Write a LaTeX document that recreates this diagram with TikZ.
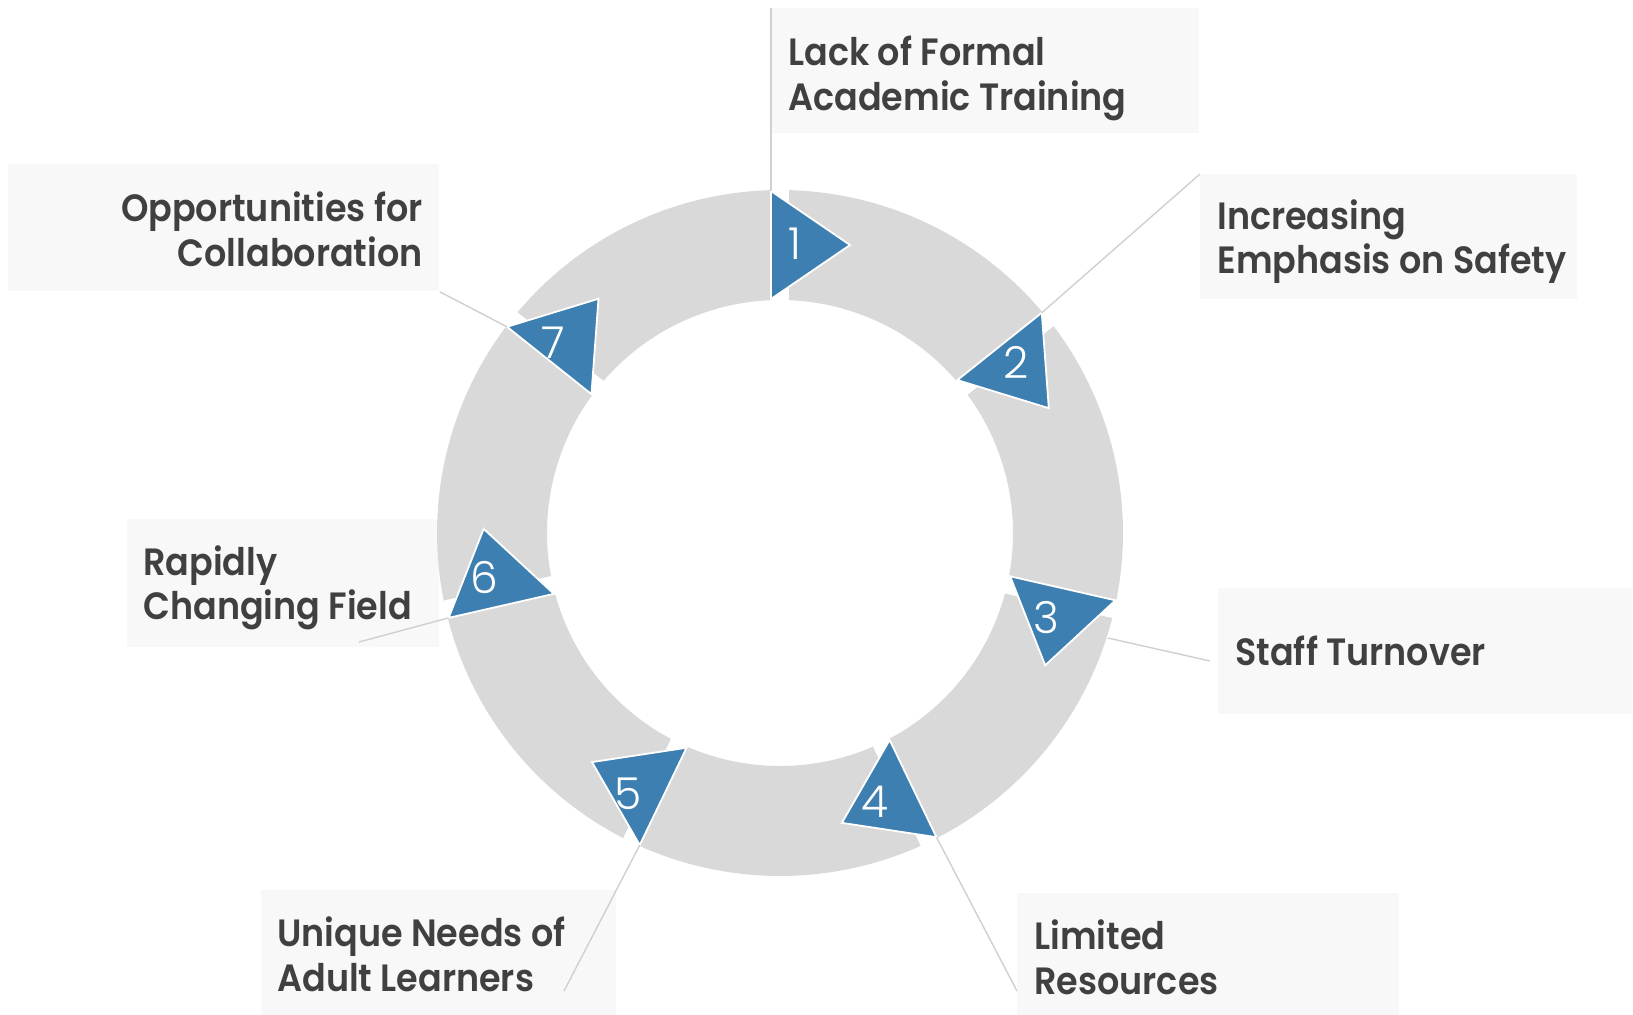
\documentclass[tikz,border=0pt]{standalone}
\usepackage{fontspec}
\usetikzlibrary{calc}
\IfFontExistsTF{Poppins SemiBold}{\newfontfamily\lblfont{Poppins SemiBold}[FakeStretch=0.92]}{\newfontfamily\lblfont{Poppins}[UprightFont=*-Bold, FakeStretch=0.92]}
\IfFontExistsTF{Poppins Light}{\newfontfamily\numfont{Poppins Light}}{\newfontfamily\numfont{Poppins}}
\definecolor{ringgray}{HTML}{D9D9D9}
\definecolor{triblue}{HTML}{3C7FB0}
\definecolor{boxfill}{HTML}{F8F8F8}
\definecolor{txt}{HTML}{404040}
\definecolor{leadc}{HTML}{D0D0D0}
\tikzset{
  box/.style={fill=boxfill, draw=none, inner sep=0pt, anchor=north west},
  lbl/.style={inner sep=0pt, text=txt, font=\lblfont\fontsize{19pt}{22pt}\selectfont},
  numtext/.style={inner sep=0pt, text=white, font=\numfont\fontsize{22pt}{24pt}\selectfont},
  leader/.style={draw=leadc, line width=0.7pt},
  tri/.style={fill=triblue, draw=white, line width=0.9pt, line join=miter},
}
\begin{document}
\begin{tikzpicture}[x=0.5pt, y=0.5pt]
\useasboundingbox (0,0) rectangle (1633,-1014);
% label boxes
\node[box, minimum width=214pt, minimum height=62.5pt] (b1) at (771,-8) {};
\node[box, minimum width=188.5pt, minimum height=62.5pt] (b2) at (1200,-174) {};
\node[box, minimum width=207pt, minimum height=63pt] (b3) at (1218,-588) {};
\node[box, minimum width=191pt, minimum height=62.5pt] (b4) at (1017,-893) {};
\node[box, minimum width=177.5pt, minimum height=62.5pt] (b5) at (261,-890) {};
\node[box, minimum width=156pt, minimum height=64pt] (b6) at (127,-519) {};
\node[box, minimum width=215.5pt, minimum height=63.5pt] (b7) at (8,-164) {};
% label texts
\node[lbl, anchor=base west] (t1a) at (788,-65) {Lack of Formal};
\node[lbl, anchor=base west] (t1b) at (788,-110) {Academic Training};
\node[lbl, anchor=base west] (t2a) at (1217,-229) {Increasing};
\node[lbl, anchor=base west] (t2b) at (1217,-273) {Emphasis on Safety};
\node[lbl, anchor=base west] (t3a) at (1235,-665) {Staff Turnover};
\node[lbl, anchor=base west] (t4a) at (1034,-949) {Limited};
\node[lbl, anchor=base west] (t4b) at (1034,-994) {Resources};
\node[lbl, anchor=base west] (t5a) at (277,-946) {Unique Needs of};
\node[lbl, anchor=base west] (t5b) at (277,-991) {Adult Learners};
\node[lbl, anchor=base west] (t6a) at (143,-575) {Rapidly};
\node[lbl, anchor=base west] (t6b) at (143,-619) {Changing Field};
\node[lbl, anchor=base east] (t7a) at (423,-221) {Opportunities for};
\node[lbl, anchor=base east] (t7b) at (423,-266) {Collaboration};
% ring
\begin{scope}[shift={(780,-533)}]
\foreach \k in {1,...,7}{
  \pgfmathsetmacro{\a}{90-(\k-1)*360/7}
  \pgfmathsetmacro{\b}{\a-360/7}
  \fill[ringgray] (\a-1.503:343) arc[start angle=\a-1.503, end angle=\b+1.503, radius=171.5pt]
     -- (\b+2.214:233) arc[start angle=\b+2.214, end angle=\a-2.214, radius=116.5pt] -- cycle;
}
\foreach \k/\dx/\dy in {1/0/1, 2/2/3, 3/-11/-6, 4/-16/-3, 5/-13/-8, 6/-12/5, 7/-11/-1}{
  \pgfmathsetmacro{\a}{90-(\k-1)*360/7}
  \coordinate (ov\k) at ($(\a:342)+(\a+90:9)$);
  \coordinate (iv\k) at ($(\a:234)+(\a+90:9)$);
  \coordinate (tp\k) at ($(\a:288)+(\a-90:70)$);
  \path[tri] (iv\k) -- (ov\k) -- (tp\k) -- cycle;
  \node[numtext] (num\k) at ($(\a:288)+(\a-90:15)+(\dx,\dy)$) {\k};
}
\end{scope}
% leader lines
\coordinate (e3a) at (1108,-638);
\coordinate (e3b) at (1210,-661);
\coordinate (e4) at (1017,-991);
\coordinate (e5) at (564,-991);
\coordinate (e6) at (359,-642);
\draw[leader] (b1.north west) -- (ov1);
\draw[leader] (b2.north west) -- (ov2);
\draw[leader] (e3a) -- (e3b);
\draw[leader] (ov4) -- (e4);
\draw[leader] (ov5) -- (e5);
\draw[leader] (ov6) -- (e6);
\draw[leader] (b7.south east) -- (ov7);
\end{tikzpicture}
\end{document}
